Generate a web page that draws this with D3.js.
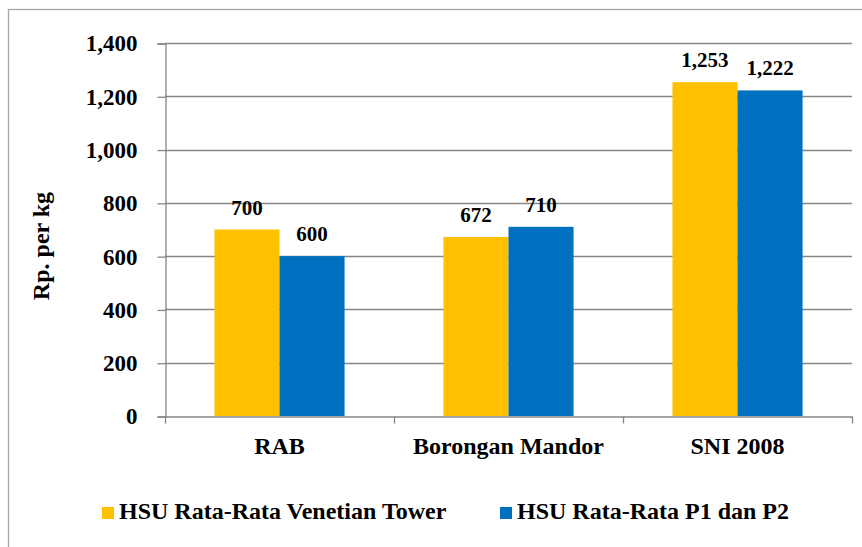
<!DOCTYPE html>
<html>
<head>
<meta charset="utf-8">
<script src="https://cdn.jsdelivr.net/npm/d3@7"></script>
<style>
  html, body { margin: 0; padding: 0; background: #fff; }
  svg { display: block; }
</style>
</head>
<body>
<svg id="chart" width="862" height="547"></svg>
<script>
const categories = ["RAB", "Borongan Mandor", "SNI 2008"];
const seriesNames = ["HSU Rata-Rata Venetian Tower", "HSU Rata-Rata P1 dan P2"];
const venetianValues = [700, 672, 1253];
const p1p2Values = [600, 710, 1222];
const seriesColors = ["#FFC000", "#0070C0"];
const yTicks = [0, 200, 400, 600, 800, 1000, 1200, 1400];
const yTitle = "Rp. per kg";

const FONT = '"Liberation Serif", "Times New Roman", Tinos, Times, serif';
const styleText = sel => sel.style("font-family", FONT).style("font-weight", "bold").style("fill", "#000");

const svg = d3.select("#chart");
const W = 862, H = 547;
const plot = { left: 165, right: 852, top: 43, bottom: 416 };

// outer frame
svg.append("rect")
  .attr("x", 8.5).attr("y", 9.5)
  .attr("width", W + 20).attr("height", H + 20)
  .attr("fill", "none").attr("stroke", "#a6a6a6").attr("stroke-width", 1.3);

const x0 = d3.scaleBand().domain(categories).range([plot.left, plot.right]).paddingInner(0).paddingOuter(0);
const x1 = d3.scaleBand().domain([0, 1]).range([0, x0.bandwidth()]).paddingInner(0).paddingOuter(0.76);
const y = d3.scaleLinear().domain([0, 1400]).range([plot.bottom, plot.top]);

// gridlines
svg.append("g").selectAll("line").data(yTicks.filter(d => d > 0)).join("line")
  .attr("x1", plot.left).attr("x2", plot.right)
  .attr("y1", d => Math.round(y(d)) + 0.5).attr("y2", d => Math.round(y(d)) + 0.5)
  .attr("stroke", "#868686").attr("stroke-width", 1.3);

// y axis
const yAxis = d3.axisLeft(y).tickValues(yTicks).tickSize(8).tickPadding(20).tickFormat(d3.format(","));
const gy = svg.append("g").attr("transform", `translate(${plot.left + 0.5},0.5)`).call(yAxis);
gy.select(".domain").attr("stroke", "#868686").attr("stroke-width", 1.3);
gy.selectAll(".tick line").attr("stroke", "#868686").attr("stroke-width", 1.3);
gy.selectAll(".tick text").style("font-size", "23px").call(styleText);

// bars
const data = categories.map((c, i) => ({ cat: c, vals: [venetianValues[i], p1p2Values[i]] }));
const groups = svg.append("g").selectAll("g").data(data).join("g")
  .attr("transform", d => `translate(${x0(d.cat)},0)`);
groups.selectAll("rect").data(d => d.vals.map((v, k) => ({ v, k }))).join("rect")
  .attr("x", d => x1(d.k)).attr("width", x1.bandwidth())
  .attr("y", d => y(d.v)).attr("height", d => y(0) - y(d.v))
  .attr("fill", d => seriesColors[d.k]);
groups.selectAll("text").data(d => d.vals.map((v, k) => ({ v, k }))).join("text")
  .attr("x", d => x1(d.k) + x1.bandwidth() / 2)
  .attr("y", d => y(d.v) - 15)
  .attr("text-anchor", "middle").style("font-size", "21px").call(styleText)
  .text(d => d3.format(",")(d.v));

// x axis
const xAxis = d3.axisBottom(x0).tickSize(0).tickPadding(20);
const gx = svg.append("g").attr("transform", `translate(0,${plot.bottom + 0.5})`).call(xAxis);
gx.select(".domain").attr("stroke", "#868686").attr("stroke-width", 1.3);
gx.selectAll(".tick text").style("font-size", "24px").call(styleText);
// category boundary ticks
gx.append("g").selectAll("line").data(categories.map(c => x0(c)).concat([x0.range()[1]])).join("line")
  .attr("x1", d => Math.round(d) + 0.5).attr("x2", d => Math.round(d) + 0.5)
  .attr("y1", 0).attr("y2", 7)
  .attr("stroke", "#868686").attr("stroke-width", 1.3);

// y title
svg.append("text")
  .attr("transform", `translate(49,246) rotate(-90)`)
  .attr("text-anchor", "middle").style("font-size", "24px").call(styleText)
  .text(yTitle);

// legend
const legendX = [102, 500];
const leg = svg.append("g").selectAll("g").data(seriesNames).join("g")
  .attr("transform", (d, i) => `translate(${legendX[i]},507)`);
leg.append("rect").attr("width", 12).attr("height", 12).attr("fill", (d, i) => seriesColors[i]);
leg.append("text").attr("x", 17).attr("y", 12).style("font-size", "24px").call(styleText).text(d => d);
</script>
</body>
</html>
